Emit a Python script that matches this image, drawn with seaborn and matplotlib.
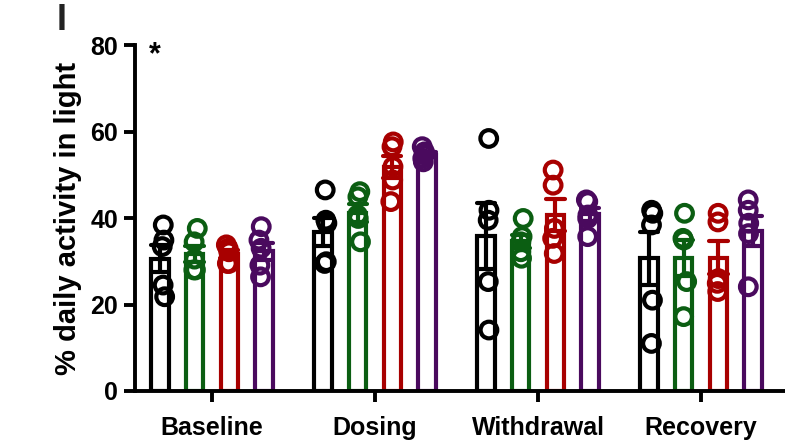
import numpy as np
import pandas as pd
import matplotlib
matplotlib.use("Agg")
import matplotlib.pyplot as plt
import seaborn as sns

phases = ["Baseline", "Dosing", "Withdrawal", "Recovery"]
groups = ["G1", "G2", "G3", "G4"]
colors = ["#000000", "#0b5e12", "#a80000", "#4a0a5e"]

baseline = [
    [38.4, 34.9, 33.4, 24.5, 21.8],
    [37.6, 34.5, 30.5, 28.0, 28.0],
    [33.8, 33.0, 32.2, 29.5, 29.5],
    [38.0, 34.9, 33.0, 29.1, 26.4],
]
dosing = [
    [46.5, 38.8, 39.5, 29.5, 29.9],
    [46.1, 44.9, 40.7, 39.9, 34.5],
    [57.6, 56.5, 51.9, 48.8, 43.8],
    [56.5, 55.3, 54.6, 53.0, 53.8],
]
withdrawal = [
    [58.4, 41.8, 39.5, 25.3, 14.1],
    [39.9, 35.7, 34.5, 32.2, 30.7],
    [51.1, 47.6, 37.6, 35.3, 31.8],
    [44.2, 43.8, 40.7, 39.9, 35.7],
]
recovery = [
    [41.8, 41.1, 38.4, 21.0, 11.0],
    [41.1, 35.3, 34.9, 25.3, 17.2],
    [41.1, 39.1, 26.0, 24.9, 23.0],
    [44.2, 41.8, 38.8, 36.4, 24.1],
]
yticks = [0, 20, 40, 60, 80]

rows = []
for phase, block in zip(phases, [baseline, dosing, withdrawal, recovery]):
    for g, vals in zip(groups, block):
        for v in vals:
            rows.append({"phase": phase, "group": g, "value": v})
df = pd.DataFrame(rows)

sns.set_style("ticks")
plt.rcParams["font.family"] = ["Liberation Sans", "DejaVu Sans"]
plt.rcParams["font.weight"] = "bold"
plt.rcParams["text.color"] = "black"
plt.rcParams["axes.labelcolor"] = "black"
plt.rcParams["xtick.color"] = "black"
plt.rcParams["ytick.color"] = "black"

fig = plt.figure(figsize=(7.85, 4.42), dpi=100)
ax = fig.add_axes([0.172, 0.1154, 0.828, 0.7826])

palette = dict(zip(groups, colors))
sns.barplot(data=df, x="phase", y="value", hue="group", order=phases,
            hue_order=groups, palette=palette, fill=False, width=0.85,
            gap=0.5, errorbar="se", capsize=0.45, linewidth=3.0,
            err_kws={"linewidth": 3.0}, ax=ax, legend=False, zorder=2)

np.random.seed(3)
sns.stripplot(data=df, x="phase", y="value", hue="group", order=phases,
              hue_order=groups, palette=palette, dodge=True, jitter=0.05,
              marker="o", size=12, linewidth=3.0, facecolor="none",
              ax=ax, legend=False, zorder=3)
for coll in ax.collections:
    fc = coll.get_facecolors()
    if len(fc):
        coll.set_edgecolors(fc)
        coll.set_facecolors("none")

ax.set_xlim(-0.472, 3.515)
ax.set_ylim(0, 80)
ax.set_yticks(yticks)
ax.set_xlabel("")
ax.set_ylabel("% daily activity in light", fontsize=21, fontweight="bold",
              labelpad=6, color="black")
ax.tick_params(axis="both", labelsize=18, width=2.8, length=8, color="black",
               labelcolor="black")
ax.tick_params(axis="x", pad=10)
ax.tick_params(axis="y", pad=4)
for lab in ax.get_xticklabels() + ax.get_yticklabels():
    lab.set_fontweight("bold")
for s in ["top", "right"]:
    ax.spines[s].set_visible(False)
for s in ["left", "bottom"]:
    ax.spines[s].set_linewidth(2.8)
    ax.spines[s].set_color("black")

fig.text(155 / 785, 1 - 55 / 442, "*", fontsize=22, fontweight="bold",
         ha="center", va="center", color="black")
fig.text(62 / 785, 1 - 3 / 442, "I", fontsize=26, fontweight="bold",
         color="#222222", ha="center", va="top")

fig.savefig("out.png", dpi=100)
